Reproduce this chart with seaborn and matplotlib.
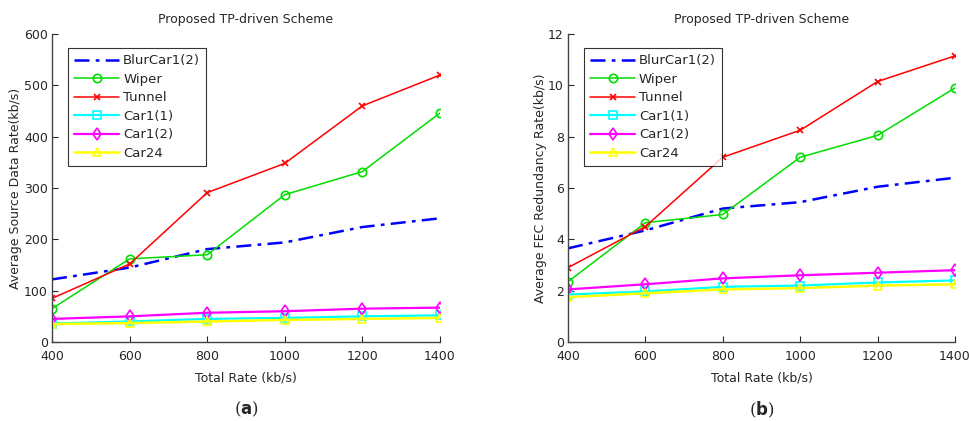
import matplotlib
matplotlib.use("Agg")
import matplotlib.pyplot as plt
import seaborn as sns
import pandas as pd

sns.set_style("white")
plt.rcParams['font.family'] = ['DejaVu Sans']

rates = [400, 600, 800, 1000, 1200, 1400]
series_names = ["BlurCar1(2)", "Wiper", "Tunnel", "Car1(1)", "Car1(2)", "Car24"]

src_blur = [122, 145, 181, 194, 224, 241]
src_wiper = [65, 162, 170, 287, 332, 446]
src_tunnel = [85, 152, 291, 348, 460, 520]
src_car11 = [36, 40, 45, 47, 50, 52]
src_car12 = [45, 50, 57, 60, 65, 67]
src_car24 = [35, 37, 40, 43, 45, 47]

fec_blur = [3.65, 4.35, 5.2, 5.45, 6.05, 6.4]
fec_wiper = [2.35, 4.65, 4.97, 7.2, 8.05, 9.9]
fec_tunnel = [2.9, 4.5, 7.2, 8.25, 10.15, 11.15]
fec_car11 = [1.85, 1.97, 2.15, 2.2, 2.32, 2.4]
fec_car12 = [2.05, 2.25, 2.48, 2.6, 2.7, 2.8]
fec_car24 = [1.75, 1.9, 2.05, 2.1, 2.2, 2.25]

colors = ["#0000ff", "#00dd00", "#ff0000", "#00ffff", "#ff00ff", "#ffff00"]
markers = ["", "o", "x", "s", "d", "^"]
styles = [(0, (6, 2.5, 1.5, 2.5)), "-", "-", "-", "-", "-"]
widths = [1.8, 1.1, 1.1, 1.6, 1.6, 1.8]

fig = plt.figure(figsize=(9.69, 4.21), dpi=100)
ax1 = fig.add_axes([0.0537, 0.1876, 0.4003, 0.7316])
ax2 = fig.add_axes([0.5862, 0.1876, 0.3993, 0.7316])

def draw(ax, data, ylim, yticks, ylabel, tag):
    for name, vals, c, m, ls, lw in zip(series_names, data, colors, markers, styles, widths):
        df = pd.DataFrame({"x": rates, "y": vals})
        sns.lineplot(data=df, x="x", y="y", ax=ax, color=c, marker=m if m else None,
                     linestyle=ls, linewidth=lw, markersize=6 if m != "x" else 4.5,
                     markerfacecolor="none", markeredgecolor=c, markeredgewidth=1.2,
                     label=name)
    ax.set_xlim(400, 1400)
    ax.set_ylim(*ylim)
    ax.set_xticks(rates)
    ax.set_yticks(yticks)
    ax.set_title("Proposed TP-driven Scheme", fontsize=9, pad=8)
    ax.set_xlabel("Total Rate (kb/s)", fontsize=9, labelpad=6)
    ax.set_ylabel(ylabel, fontsize=9, labelpad=1)
    ax.tick_params(axis="x", labelsize=9, direction="in", length=4, width=0.8,
                   bottom=True, pad=6)
    ax.tick_params(axis="y", labelsize=9, direction="in", length=4, width=0.8,
                   left=True, pad=3)
    for s in ["top", "right"]:
        ax.spines[s].set_visible(False)
    for s in ["left", "bottom"]:
        ax.spines[s].set_color("#444444")
        ax.spines[s].set_linewidth(1.0)
    leg = ax.legend(loc="upper left", bbox_to_anchor=(0.025, 0.975), fontsize=9.5,
                    frameon=True, fancybox=False, edgecolor="black", handlelength=3.4,
                    labelspacing=0.42, borderpad=0.45, handletextpad=0.3)
    leg.get_frame().set_linewidth(0.8)
    ax.text(0.5, -0.22, tag, transform=ax.transAxes, ha="center", va="center",
            fontsize=12, fontfamily="DejaVu Serif")

draw(ax1, [src_blur, src_wiper, src_tunnel, src_car11, src_car12, src_car24],
     (0, 600), [0, 100, 200, 300, 400, 500, 600], "Average Source Data Rate(kb/s)", r"($\mathbf{a}$)")
draw(ax2, [fec_blur, fec_wiper, fec_tunnel, fec_car11, fec_car12, fec_car24],
     (0, 12), [0, 2, 4, 6, 8, 10, 12], "Average FEC Redundancy Rate(kb/s)", r"($\mathbf{b}$)")

fig.savefig("out.png", dpi=100)
